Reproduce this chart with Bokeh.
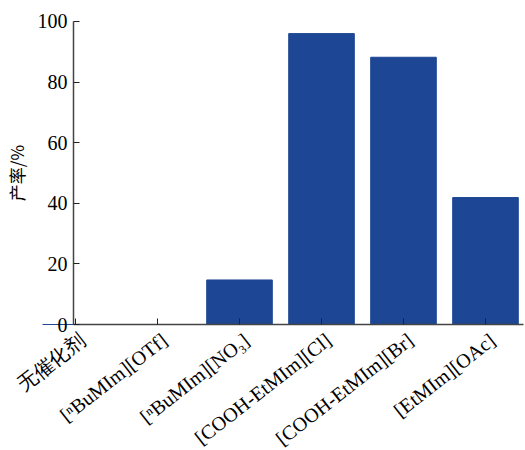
from bokeh.plotting import figure
from bokeh.models import Range1d, FixedTicker, LabelSet, ColumnDataSource, LinearAxis
from bokeh.core.properties import value
from bokeh.embed import file_html
from bokeh.resources import INLINE
import math

categories = ["无催化剂", "[ⁿBuMIm][OTf]", "[ⁿBuMIm][NO₃]", "[COOH-EtMIm][Cl]",
              "[COOH-EtMIm][Br]", "[EtMIm][OAc]"]
yields = [0, 0, 14.7, 96.0, 88.2, 41.9]
y_ticks = [0, 20, 40, 60, 80, 100]

xs = list(range(len(categories)))

X0, X1 = -0.025, 5.46   # visible axis extent
p = figure(width=525, height=450, output_backend="svg", toolbar_location=None,
           x_range=Range1d(-0.915, 5.488), y_range=Range1d(-41.58, 106.93),
           x_axis_location=None, y_axis_location=None,
           min_border=0)
p.outline_line_color = None
p.grid.grid_line_color = None
p.background_fill_color = "white"
p.border_fill_color = "white"

p.vbar(x=xs, top=yields, width=0.8, color="#1d4794", line_color="#1d4794")

font = "Liberation Serif"
xaxis = LinearAxis(ticker=FixedTicker(ticks=xs), fixed_location=0, bounds=(X0, X1),
                   major_label_text_color=None, major_label_text_font_size="1px")
yaxis = LinearAxis(ticker=FixedTicker(ticks=y_ticks), fixed_location=X0, bounds=(0, 100),
                   axis_label="产率/%")
p.add_layout(xaxis, "below")
p.add_layout(yaxis, "left")

for ax in (xaxis, yaxis):
    ax.axis_line_color = "#444444"
    ax.axis_line_width = 1.5
    ax.major_tick_line_color = "#222222"
    ax.major_tick_in = 6
    ax.major_tick_out = 0
    ax.minor_tick_line_color = None

yaxis.major_label_text_font = font
yaxis.major_label_text_font_size = "20px"
yaxis.major_label_text_color = "black"
yaxis.axis_label_text_font = "Noto Sans CJK SC"
yaxis.axis_label_text_font_size = "17px"
yaxis.axis_label_text_font_style = "normal"
yaxis.axis_label_text_color = "black"
yaxis.axis_label_standoff = 6
yaxis.major_label_standoff = 6

src = ColumnDataSource(dict(x=xs, y=[0] * len(xs), text=categories))
labels = LabelSet(x="x", y="y", text="text", source=src,
                  angle=math.radians(38), text_align="right", text_baseline="middle",
                  x_offset=7, y_offset=-13,
                  text_font=value(font), text_font_size="20px", text_color="black")
p.add_layout(labels)

open("out.html", "w").write(file_html(p, INLINE))
